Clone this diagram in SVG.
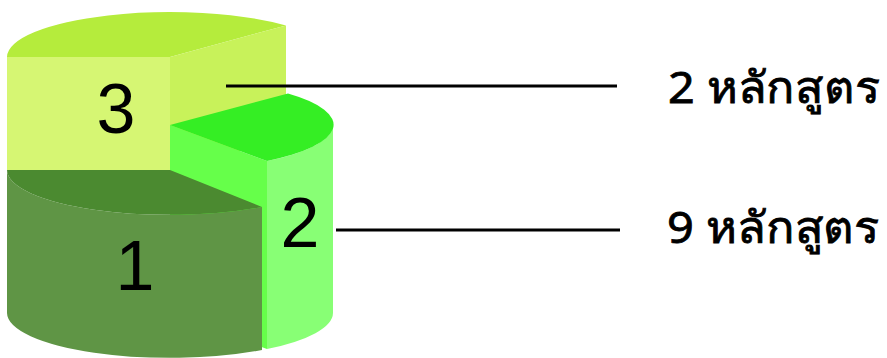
<svg xmlns="http://www.w3.org/2000/svg" width="887" height="358" viewBox="0 0 887 358">
<style>
.num{font-family:"Liberation Sans",Arial,sans-serif;font-size:70px;fill:#000;text-anchor:middle}
.lbl{font-family:"Noto Sans","DejaVu Sans",sans-serif;font-size:44px;fill:#000;stroke:#000;stroke-width:0.8}
.conn{stroke:#000;stroke-width:3;fill:none}
</style>
<rect width="887" height="358" fill="#fff"/>
<g id="seg3">
<path d="M170,57 L7,57 A163,45 0 0 1 286,25.4 Z" fill="#b5ec3c"/>
<rect x="7" y="57" width="163" height="113" fill="#d6f673"/>
<path d="M170,57 L286,25.4 L286,138.4 L170,170 Z" fill="#c8f25a"/>
<text class="num" x="116" y="133">3</text>
</g>
<g id="seg2">
<path d="M170,125 L267,161 L267,349 L170,313 Z" fill="#66ff4a"/>
<path d="M267,161 A163,45 0 0 0 333,125 L333,313 A163,45 0 0 1 267,349 Z" fill="#88ff75"/>
<path d="M170,125 L288,93.5 A163,45 0 0 1 267,161 Z" fill="#35ee24"/>
<text class="num" x="300" y="247">2</text>
</g>
<g id="seg1">
<path d="M7,170 A163,45 0 0 0 262,207 L262,350 A163,45 0 0 1 7,313 Z" fill="#5f9545"/>
<path d="M7,170 L170,170 L262,207 A163,45 0 0 1 7,170 Z" fill="#4b8a30"/>
<text class="num" x="135" y="290">1</text>
</g>
<g id="connectors">
<line class="conn" x1="226" y1="86" x2="617" y2="86"/>
<line class="conn" x1="336" y1="230" x2="620" y2="230"/>
</g>
<g id="label-top"><text class="lbl" x="668" y="103" textLength="212" lengthAdjust="spacingAndGlyphs">2 หลักสูตร</text></g>
<g id="label-bottom"><text class="lbl" x="667" y="243" textLength="213" lengthAdjust="spacingAndGlyphs">9 หลักสูตร</text></g>
</svg>
